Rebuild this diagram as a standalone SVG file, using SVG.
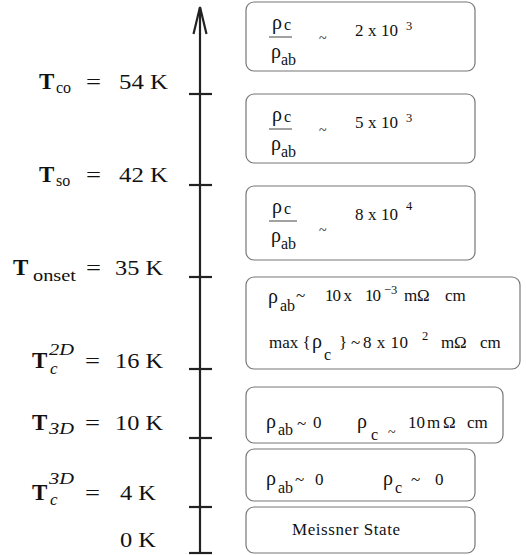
<svg xmlns="http://www.w3.org/2000/svg" width="526" height="555" viewBox="0 0 526 555">
<style>
.lbl{font-family:"Liberation Serif","DejaVu Serif",serif;fill:#111;font-size:22px}
.b{font-weight:bold;font-size:23px}
.sub{font-size:16px}
.it{font-style:italic;font-size:17px}
.box{fill:#fff;stroke:#777;stroke-width:1.2}
.t{font-family:"Liberation Serif","DejaVu Serif",serif;fill:#111;font-size:17px}
.r{font-size:20px}
.s{font-size:16px}
.sup{font-size:12.5px}
.tl{font-size:14px}
.ax{stroke:#222;stroke-width:2.2;fill:none}
.bar{stroke:#444;stroke-width:1}
</style>
<g id="connectors">
<line class="ax" x1="200" y1="553" x2="200" y2="8"/>
<polyline class="ax" points="193.5,34 200,7 206.5,34"/>
<line class="ax" x1="189" y1="94" x2="212" y2="94"/>
<line class="ax" x1="189" y1="185" x2="212" y2="185"/>
<line class="ax" x1="189" y1="277" x2="212" y2="277"/>
<line class="ax" x1="189" y1="369" x2="212" y2="369"/>
<line class="ax" x1="189" y1="438" x2="212" y2="438"/>
<line class="ax" x1="189" y1="507" x2="212" y2="507"/>
<line class="ax" x1="189" y1="553" x2="212" y2="553"/>
</g>
<g id="label-tco" class="lbl">
<text class="b" x="39" y="89">T</text><text class="sub" x="56" y="93">co</text>
<text x="86" y="89" textLength="15" lengthAdjust="spacingAndGlyphs">=</text><text x="119" y="89" textLength="49" lengthAdjust="spacingAndGlyphs">54 K</text>
</g>
<g id="label-tso" class="lbl">
<text class="b" x="39" y="182">T</text><text class="sub" x="56" y="186">so</text>
<text x="86" y="182" textLength="15" lengthAdjust="spacingAndGlyphs">=</text><text x="119" y="182" textLength="49" lengthAdjust="spacingAndGlyphs">42 K</text>
</g>
<g id="label-tonset" class="lbl">
<text class="b" x="13" y="275">T</text><text class="sub" x="33" y="281" textLength="43" lengthAdjust="spacingAndGlyphs">onset</text>
<text x="86" y="275" textLength="15" lengthAdjust="spacingAndGlyphs">=</text><text x="115" y="275" textLength="48" lengthAdjust="spacingAndGlyphs">35 K</text>
</g>
<g id="label-tc2d" class="lbl">
<text class="b" x="32" y="368">T</text><text class="it" x="49" y="355" textLength="25" lengthAdjust="spacingAndGlyphs">2D</text><text class="it" x="50" y="374">c</text>
<text x="85" y="368" textLength="15" lengthAdjust="spacingAndGlyphs">=</text><text x="115" y="368" textLength="48" lengthAdjust="spacingAndGlyphs">16 K</text>
</g>
<g id="label-t3d" class="lbl">
<text class="b" x="32" y="430">T</text><text class="it" x="49" y="434" textLength="25" lengthAdjust="spacingAndGlyphs">3D</text>
<text x="85" y="430" textLength="15" lengthAdjust="spacingAndGlyphs">=</text><text x="115" y="430" textLength="48" lengthAdjust="spacingAndGlyphs">10 K</text>
</g>
<g id="label-tc3d" class="lbl">
<text class="b" x="32" y="500">T</text><text class="it" x="49" y="484" textLength="25" lengthAdjust="spacingAndGlyphs">3D</text><text class="it" x="50" y="505">c</text>
<text x="85" y="500" textLength="15" lengthAdjust="spacingAndGlyphs">=</text><text x="120" y="500" textLength="36" lengthAdjust="spacingAndGlyphs">4 K</text>
</g>
<g id="label-0k" class="lbl">
<text x="120" y="547" textLength="36" lengthAdjust="spacingAndGlyphs">0 K</text>
</g>
<g id="box1" class="t">
<rect class="box" x="246" y="2" width="229" height="69" rx="8"/>
<text class="r" x="272" y="29">ρ</text><text class="s" x="284" y="30">c</text>
<line class="bar" x1="269" y1="37" x2="292" y2="37"/>
<text class="r" x="271" y="58">ρ</text><text class="s" x="281" y="65">ab</text>
<text class="tl" x="319" y="43">~</text>
<text x="355" y="36" textLength="43" lengthAdjust="spacing">2 x 10</text><text class="sup" x="406" y="30">3</text>
</g>
<g id="box2" class="t">
<rect class="box" x="246" y="94" width="229" height="69" rx="8"/>
<text class="r" x="272" y="121">ρ</text><text class="s" x="284" y="122">c</text>
<line class="bar" x1="269" y1="129" x2="292" y2="129"/>
<text class="r" x="271" y="150">ρ</text><text class="s" x="281" y="157">ab</text>
<text class="tl" x="319" y="135">~</text>
<text x="355" y="128" textLength="43" lengthAdjust="spacing">5 x 10</text><text class="sup" x="406" y="122">3</text>
</g>
<g id="box3" class="t">
<rect class="box" x="246" y="186" width="229" height="74" rx="8"/>
<text class="r" x="272" y="213">ρ</text><text class="s" x="284" y="214">c</text>
<line class="bar" x1="269" y1="221" x2="297" y2="221"/>
<text class="r" x="271" y="242">ρ</text><text class="s" x="281" y="249">ab</text>
<text class="tl" x="319" y="235">~</text>
<text x="355" y="220" textLength="43" lengthAdjust="spacing">8 x 10</text><text class="sup" x="406" y="210">4</text>
</g>
<g id="box4" class="t">
<rect class="box" x="246" y="277" width="274" height="92" rx="8"/>
<text class="r" x="268" y="303">ρ</text><text class="s" x="280" y="311">ab</text>
<text x="296" y="301">~</text>
<text x="325" y="301" textLength="27" lengthAdjust="spacing">10 x</text>
<text x="365" y="301" textLength="16" lengthAdjust="spacing">10</text><text class="sup" x="384" y="294">−3</text>
<text x="404" y="301">m</text><text x="417" y="301">Ω</text><text x="445" y="301">cm</text>
<text x="269" y="348">max {</text><text class="r" x="312" y="348">ρ</text><text class="s" x="324" y="360">c</text>
<text x="339" y="348">}</text><text x="351" y="348">~</text>
<text x="363" y="348" textLength="45" lengthAdjust="spacing">8 x 10</text><text class="sup" x="422" y="340">2</text>
<text x="441" y="348">m</text><text x="454" y="348">Ω</text><text x="480" y="348">cm</text>
</g>
<g id="box5" class="t">
<rect class="box" x="246" y="387" width="257" height="56" rx="8"/>
<text class="r" x="266" y="428">ρ</text><text class="s" x="278" y="435">ab</text>
<text x="297" y="429">~</text><text x="313" y="428">0</text>
<text class="r" x="357" y="428">ρ</text><text class="s" x="371" y="440">c</text>
<text class="tl" x="388" y="437">~</text>
<text x="408" y="428">10</text><text x="427" y="428">m</text><text x="443" y="428">Ω</text><text x="467" y="428">cm</text>
</g>
<g id="box6" class="t">
<rect class="box" x="246" y="449" width="229" height="52" rx="8"/>
<text class="r" x="266" y="485">ρ</text><text class="s" x="278" y="493">ab</text>
<text x="295" y="485">~</text><text x="315" y="485">0</text>
<text class="r" x="383" y="485">ρ</text><text class="s" x="395" y="493">c</text>
<text x="411" y="485">~</text><text x="435" y="485">0</text>
</g>
<g id="box7" class="t">
<rect class="box" x="246" y="507" width="229" height="46" rx="8"/>
<text x="292" y="535" textLength="108" lengthAdjust="spacing">Meissner State</text>
</g>
</svg>
